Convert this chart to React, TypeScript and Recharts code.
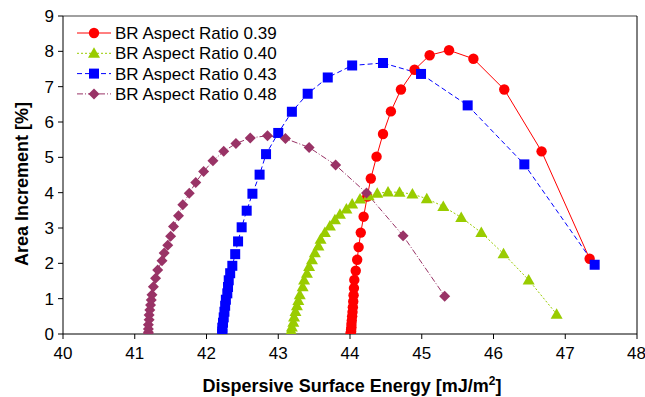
import React from 'react';
import {
  ComposedChart,
  Line,
  XAxis,
  YAxis,
  Legend,
  ReferenceLine,
} from 'recharts';

type Pt = { x: number; y: number };

// BR Aspect Ratio 0.39 (red, circles, solid)
const ratio039: Pt[] = [
  { x: 44.01, y: 0 }, { x: 44.01, y: 0.03 }, { x: 44.015, y: 0.07 }, { x: 44.015, y: 0.12 },
  { x: 44.02, y: 0.19 }, { x: 44.02, y: 0.28 }, { x: 44.025, y: 0.38 }, { x: 44.03, y: 0.5 },
  { x: 44.035, y: 0.62 }, { x: 44.04, y: 0.76 }, { x: 44.045, y: 0.92 }, { x: 44.05, y: 1.1 },
  { x: 44.055, y: 1.3 }, { x: 44.06, y: 1.53 }, { x: 44.08, y: 1.79 }, { x: 44.1, y: 2.1 },
  { x: 44.12, y: 2.46 }, { x: 44.15, y: 2.87 }, { x: 44.19, y: 3.32 }, { x: 44.24, y: 3.89 },
  { x: 44.29, y: 4.4 }, { x: 44.37, y: 5.02 }, { x: 44.46, y: 5.66 }, { x: 44.57, y: 6.3 },
  { x: 44.71, y: 6.92 }, { x: 44.9, y: 7.48 }, { x: 45.11, y: 7.89 }, { x: 45.38, y: 8.03 },
  { x: 45.72, y: 7.79 }, { x: 46.15, y: 6.92 }, { x: 46.67, y: 5.17 }, { x: 47.34, y: 2.13 },
];

// BR Aspect Ratio 0.40 (green, triangles, dotted)
const ratio040: Pt[] = [
  { x: 43.16, y: 0 }, { x: 43.17, y: 0.04 }, { x: 43.18, y: 0.1 }, { x: 43.19, y: 0.2 },
  { x: 43.21, y: 0.33 }, { x: 43.22, y: 0.48 }, { x: 43.24, y: 0.64 }, { x: 43.26, y: 0.8 },
  { x: 43.28, y: 0.95 }, { x: 43.3, y: 1.11 }, { x: 43.34, y: 1.34 }, { x: 43.36, y: 1.53 },
  { x: 43.4, y: 1.72 }, { x: 43.43, y: 1.91 }, { x: 43.47, y: 2.1 }, { x: 43.51, y: 2.3 },
  { x: 43.56, y: 2.49 }, { x: 43.59, y: 2.68 }, { x: 43.65, y: 2.87 }, { x: 43.72, y: 3.06 },
  { x: 43.79, y: 3.23 }, { x: 43.86, y: 3.39 }, { x: 43.95, y: 3.54 }, { x: 44.03, y: 3.68 },
  { x: 44.14, y: 3.82 }, { x: 44.26, y: 3.91 }, { x: 44.38, y: 3.98 }, { x: 44.53, y: 4.02 },
  { x: 44.69, y: 4.01 }, { x: 44.87, y: 3.96 }, { x: 45.07, y: 3.83 }, { x: 45.3, y: 3.61 },
  { x: 45.55, y: 3.3 }, { x: 45.83, y: 2.87 }, { x: 46.14, y: 2.27 }, { x: 46.49, y: 1.53 },
  { x: 46.88, y: 0.56 },
];

// BR Aspect Ratio 0.43 (blue, squares, dashed)
const ratio043: Pt[] = [
  { x: 42.22, y: 0 }, { x: 42.22, y: 0.07 }, { x: 42.22, y: 0.18 }, { x: 42.23, y: 0.32 },
  { x: 42.24, y: 0.47 }, { x: 42.25, y: 0.63 }, { x: 42.26, y: 0.8 }, { x: 42.27, y: 0.97 },
  { x: 42.29, y: 1.15 }, { x: 42.3, y: 1.33 }, { x: 42.31, y: 1.52 }, { x: 42.33, y: 1.72 },
  { x: 42.36, y: 1.93 }, { x: 42.4, y: 2.26 }, { x: 42.44, y: 2.62 }, { x: 42.49, y: 3.02 },
  { x: 42.56, y: 3.49 }, { x: 42.64, y: 3.97 }, { x: 42.74, y: 4.51 }, { x: 42.83, y: 5.09 },
  { x: 43.0, y: 5.69 }, { x: 43.19, y: 6.29 }, { x: 43.41, y: 6.8 }, { x: 43.69, y: 7.26 },
  { x: 44.03, y: 7.6 }, { x: 44.46, y: 7.67 }, { x: 44.99, y: 7.36 }, { x: 45.64, y: 6.47 },
  { x: 46.43, y: 4.8 }, { x: 47.41, y: 1.96 },
];

// BR Aspect Ratio 0.48 (maroon, diamonds, dash-dot)
const ratio048: Pt[] = [
  { x: 41.19, y: 0 }, { x: 41.19, y: 0.05 }, { x: 41.19, y: 0.14 }, { x: 41.19, y: 0.26 },
  { x: 41.2, y: 0.4 }, { x: 41.2, y: 0.54 }, { x: 41.21, y: 0.68 }, { x: 41.22, y: 0.82 },
  { x: 41.23, y: 0.96 }, { x: 41.24, y: 1.11 }, { x: 41.26, y: 1.34 }, { x: 41.29, y: 1.58 },
  { x: 41.32, y: 1.81 }, { x: 41.38, y: 2.07 }, { x: 41.41, y: 2.29 }, { x: 41.46, y: 2.51 },
  { x: 41.5, y: 2.77 }, { x: 41.54, y: 3.04 }, { x: 41.61, y: 3.35 }, { x: 41.67, y: 3.66 },
  { x: 41.76, y: 3.98 }, { x: 41.85, y: 4.29 }, { x: 41.96, y: 4.6 }, { x: 42.09, y: 4.9 },
  { x: 42.24, y: 5.17 }, { x: 42.41, y: 5.39 }, { x: 42.61, y: 5.55 }, { x: 42.85, y: 5.61 },
  { x: 43.1, y: 5.53 }, { x: 43.43, y: 5.28 }, { x: 43.8, y: 4.78 }, { x: 44.23, y: 3.99 },
  { x: 44.74, y: 2.78 }, { x: 45.32, y: 1.07 },
];

const xTicks = [40, 41, 42, 43, 44, 45, 46, 47, 48];
const yTicks = [0, 1, 2, 3, 4, 5, 6, 7, 8, 9];

const FONT = '"Liberation Sans", Arial, sans-serif';

type Shape = 'circle' | 'triangle' | 'square' | 'diamond';

const marker = (shape: Shape, cx: number, cy: number, color: string, key?: string) => {
  if (shape === 'circle') return <circle key={key} cx={cx} cy={cy} r={5.2} fill={color} stroke="none" />;
  if (shape === 'square') return <rect key={key} x={cx - 5} y={cy - 5} width={10} height={10} fill={color} stroke="none" />;
  if (shape === 'triangle')
    return <path key={key} d={`M${cx},${cy - 6} L${cx + 6},${cy + 4.5} L${cx - 6},${cy + 4.5} Z`} fill={color} stroke="none" />;
  return <path key={key} d={`M${cx},${cy - 5.5} L${cx + 5.5},${cy} L${cx},${cy + 5.5} L${cx - 5.5},${cy} Z`} fill={color} stroke="none" />;
};

const makeDot = (shape: Shape, color: string) => (props: any) => {
  const { cx, cy, index } = props;
  if (cx == null || cy == null) return <g key={`e-${index}`} />;
  return marker(shape, cx, cy, color, `${shape}-${index}`);
};

const seriesDefs = [
  { name: 'BR Aspect Ratio 0.39', data: ratio039, color: '#FF0000', dash: undefined as string | undefined, shape: 'circle' as Shape },
  { name: 'BR Aspect Ratio 0.40', data: ratio040, color: '#99CC00', dash: '2 2', shape: 'triangle' as Shape },
  { name: 'BR Aspect Ratio 0.43', data: ratio043, color: '#0000FF', dash: '5 3', shape: 'square' as Shape },
  { name: 'BR Aspect Ratio 0.48', data: ratio048, color: '#993366', dash: '6 2 1 2', shape: 'diamond' as Shape },
];

const LegendContent = () => (
  <svg width={260} height={90} style={{ display: 'block' }}>
    {seriesDefs.map((s, i) => {
      const y = 10 + i * 20.3;
      return (
        <g key={s.name}>
          <line x1={3} x2={37} y1={y} y2={y} stroke={s.color} strokeWidth={1} strokeDasharray={s.dash} />
          {marker(s.shape, 20, y, s.color)}
          <text x={41} y={y + 6} fontSize={17} fontFamily={FONT} fill="#000">
            {s.name}
          </text>
        </g>
      );
    })}
  </svg>
);

const XTitle = (props: any) => {
  const vb = props.viewBox || {};
  const cx = (vb.x ?? 63) + (vb.width ?? 573) / 2 + 2;
  return (
    <text x={cx} y={392} textAnchor="middle" fontSize={18} fontWeight="bold" fontFamily={FONT} fill="#000">
      Dispersive Surface Energy [mJ/m
      <tspan dy={-7} fontSize={12}>2</tspan>
      <tspan dy={7}>]</tspan>
    </text>
  );
};

const YTitle = (props: any) => {
  const vb = props.viewBox || {};
  const cy = (vb.y ?? 16) + (vb.height ?? 318) / 2 + 9;
  return (
    <text
      x={22}
      y={cy}
      transform={`rotate(-90, 22, ${cy})`}
      textAnchor="middle"
      dominantBaseline="central"
      fontSize={18}
      fontWeight="bold"
      fontFamily={FONT}
      fill="#000"
    >
      Area Increment [%]
    </text>
  );
};

export default function App() {
  return (
    <div style={{ position: 'absolute', left: 0, top: 0, width: 645, height: 397, background: '#fff' }}>
      <ComposedChart width={645} height={397} margin={{ top: 16, right: 8, left: 0, bottom: 0 }}>
        <XAxis
          type="number"
          dataKey="x"
          domain={[40, 48]}
          ticks={xTicks}
          allowDataOverflow
          height={63}
          tickSize={5}
          tickMargin={8}
          stroke="#000"
          tick={{ fill: '#000', fontSize: 17, fontFamily: FONT }}
          label={<XTitle />}
        />
        <YAxis
          type="number"
          dataKey="y"
          domain={[0, 9]}
          ticks={yTicks}
          allowDataOverflow
          width={63}
          tickSize={5}
          tickMargin={4}
          stroke="#000"
          tick={{ fill: '#000', fontSize: 17, fontFamily: FONT }}
          label={<YTitle />}
        />
        <ReferenceLine y={9} stroke="#808080" strokeWidth={1.5} />
        <ReferenceLine x={48} stroke="#000" strokeWidth={1} />
        {seriesDefs.map((s) => (
          <Line
            key={s.name}
            name={s.name}
            data={s.data}
            dataKey="y"
            type="linear"
            stroke={s.color}
            strokeWidth={1}
            strokeDasharray={s.dash}
            dot={makeDot(s.shape, s.color)}
            activeDot={false}
            isAnimationActive={false}
            legendType="none"
          />
        ))}
        <Legend
          layout="horizontal"
          verticalAlign="middle"
          align="center"
          content={<LegendContent />}
          wrapperStyle={{ position: 'absolute', left: 74, top: 23, width: 260, height: 90 }}
        />
      </ComposedChart>
    </div>
  );
}
